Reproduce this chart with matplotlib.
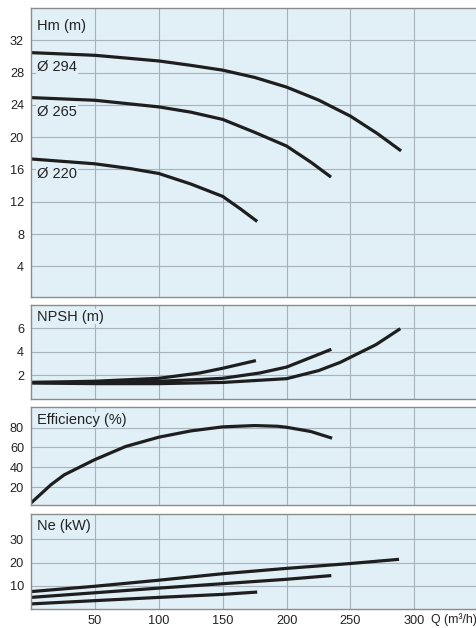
import matplotlib
matplotlib.use("Agg")
import matplotlib.pyplot as plt

plt.rcParams['font.family'] = ['Liberation Sans', 'DejaVu Sans']

# head curves Hm (m) vs Q (m3/h)
q_294 = [0, 50, 100, 125, 150, 175, 200, 225, 250, 271, 289.6]
h_294 = [30.47, 30.14, 29.44, 28.9, 28.3, 27.4, 26.2, 24.6, 22.6, 20.45, 18.3]
q_265 = [0, 50, 100, 125, 150, 175, 200, 219, 234.8]
h_265 = [24.9, 24.57, 23.75, 23.1, 22.2, 20.6, 18.9, 16.9, 15.05]
q_220 = [0, 50, 78, 100, 125, 150, 164, 177]
h_220 = [17.3, 16.7, 16.1, 15.5, 14.2, 12.66, 11.1, 9.56]
diam_labels = ['Ø 294', 'Ø 265', 'Ø 220']
diam_label_y = [28.7, 23.1, 15.4]

# NPSH (m)
qn_220 = [0, 50, 100, 132, 150, 176]
n_220 = [1.4, 1.5, 1.75, 2.2, 2.6, 3.25]
qn_265 = [0, 50, 100, 132, 150, 179, 200, 235]
n_265 = [1.4, 1.4, 1.5, 1.65, 1.75, 2.2, 2.7, 4.2]
qn_294 = [0, 50, 100, 150, 200, 225, 242, 270, 289]
n_294 = [1.35, 1.3, 1.3, 1.4, 1.72, 2.4, 3.1, 4.6, 5.95]

# efficiency (%)
q_eff = [0, 15.6, 26, 49.6, 74, 100, 125, 150, 175, 193, 200, 219, 235.6]
eff = [4, 22.4, 32.4, 47.5, 60.9, 70.3, 76.6, 80.7, 82, 81.3, 80.3, 76, 69.3]

# power Ne (kW)
qp_294 = [0, 50, 100, 150, 200, 250, 288]
p_294 = [7.5, 9.8, 12.4, 15.2, 17.5, 19.6, 21.4]
qp_265 = [0, 50, 100, 150, 200, 235]
p_265 = [5.0, 7.0, 9.0, 10.9, 12.8, 14.4]
qp_220 = [0, 50, 100, 150, 177]
p_220 = [2.2, 3.6, 5.0, 6.3, 7.3]

x_ticks = [50, 100, 150, 200, 250, 300]

bg = '#e1eff7'
grid_c = '#a8b2ba'
line_c = '#1e1e1e'

fig = plt.figure(figsize=(4.77, 6.28), dpi=100)
left, width = 31/477, 446/477
H = 628
ax1 = fig.add_axes([left, 1-297/H, width, 289/H])
ax2 = fig.add_axes([left, 1-399/H, width, 94/H])
ax3 = fig.add_axes([left, 1-505/H, width, 98.3/H])
ax4 = fig.add_axes([left, 1-609/H, width, 94.7/H])

setup = [
    (ax1, (0.2, 36.0), [4, 8, 12, 16, 20, 24, 28, 32], 'Hm (m)', 0.938),
    (ax2, (0, 7.95), [2, 4, 6], 'NPSH (m)', 0.876),
    (ax3, (2, 101), [20, 40, 60, 80], 'Efficiency (%)', 0.865),
    (ax4, (0, 40.8), [10, 20, 30], 'Ne (kW)', 0.876),
]
for ax, ylim, yt, title, ty in setup:
    ax.set_facecolor(bg)
    ax.set_xlim(0, 349)
    ax.set_ylim(*ylim)
    ax.set_yticks(yt)
    ax.set_xticks(x_ticks)
    ax.grid(True, color=grid_c, linewidth=0.8)
    ax.set_axisbelow(True)
    ax.tick_params(length=0, labelsize=9.2, colors='#222222', pad=5)
    ax.tick_params(axis='x', pad=4)
    for s in ['top', 'left', 'bottom']:
        ax.spines[s].set_color('#8c8c8c')
        ax.spines[s].set_linewidth(1.0)
    ax.spines['right'].set_visible(False)
    ax.text(0.0135, ty, title, transform=ax.transAxes, fontsize=10.5,
            color='#222222', va='center', ha='left',
            bbox=dict(facecolor=bg, edgecolor='none', pad=0.5))
    if ax is not ax4:
        ax.set_xticklabels([])

ax4.set_xticklabels([str(v) for v in x_ticks])
fig.text(0.999, 1-619.5/H, 'Q (m³/h)', ha='right', va='center',
         fontsize=8.8, color='#222222')

lw = 2.3
kw = dict(color=line_c, linewidth=lw, solid_capstyle='butt', solid_joinstyle='round')
ax1.plot(q_294, h_294, **kw)
ax1.plot(q_265, h_265, **kw)
ax1.plot(q_220, h_220, **kw)
for lab, yy in zip(diam_labels, diam_label_y):
    ax1.text(4.7, yy, lab, fontsize=10.5, color='#222222', va='center', ha='left',
             bbox=dict(facecolor=bg, edgecolor='none', pad=1.0))

ax2.plot(qn_220, n_220, **kw)
ax2.plot(qn_265, n_265, **kw)
ax2.plot(qn_294, n_294, **kw)

ax3.plot(q_eff, eff, **kw)

ax4.plot(qp_294, p_294, **kw)
ax4.plot(qp_265, p_265, **kw)
ax4.plot(qp_220, p_220, **kw)

fig.savefig('out.png', dpi=100)
